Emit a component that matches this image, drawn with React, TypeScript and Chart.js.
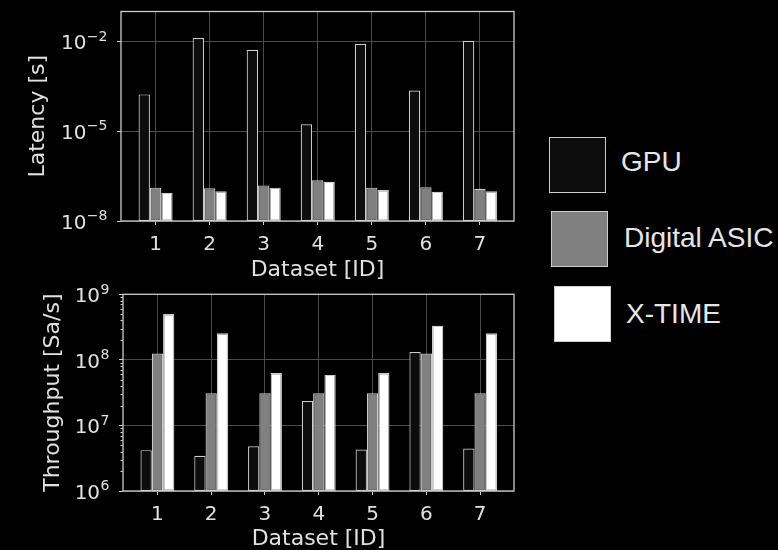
import React, { useEffect, useRef } from 'react';
import { Chart, registerables } from 'chart.js';

Chart.register(...registerables);

// ---- data ----
const datasetIds = [1, 2, 3, 4, 5, 6, 7];
const seriesNames = ['GPU', 'Digital ASIC', 'X-TIME'];
const seriesFills = ['#0d0d0d', '#808080', '#ffffff'];

const latencyGPU = [1.7e-4, 1.3e-2, 5.3e-3, 1.7e-5, 8.4e-3, 2.3e-4, 1.05e-2];
const latencyASIC = [1.3e-7, 1.25e-7, 1.55e-7, 2.3e-7, 1.3e-7, 1.35e-7, 1.2e-7];
const latencyXTIME = [8.8e-8, 9.8e-8, 1.3e-7, 2.05e-7, 1.08e-7, 9.5e-8, 9.8e-8];

const throughputGPU = [4.2e6, 3.45e6, 4.8e6, 2.35e7, 4.3e6, 1.32e8, 4.45e6];
const throughputASIC = [1.25e8, 3.1e7, 3.1e7, 3.1e7, 3.1e7, 1.25e8, 3.1e7];
const throughputXTIME = [5.0e8, 2.55e8, 6.3e7, 5.9e7, 6.3e7, 3.3e8, 2.55e8];

const latencyTicks = [1e-8, 1e-5, 1e-2];
const throughputTicks = [1e6, 1e7, 1e8, 1e9];

// ---- styles ----
const TXT = '#e0e0e0';
const GRID = '#4a4a4a';
const EDGE = '#cccccc';
const FONT = 'DejaVu Sans';

function exponentText(v: number) {
  const e = Math.round(Math.log10(v));
  return (e < 0 ? '\u2212' : '') + String(Math.abs(e));
}

const framePlugin = {
  id: 'frame',
  afterDatasetsDraw(chart: any, _args: any, opts: any) {
    const { ctx, chartArea } = chart;
    const { left, top, right, bottom } = chartArea;
    const y = chart.scales.y;
    ctx.save();
    if (opts && opts.minor) {
      ctx.strokeStyle = EDGE;
      ctx.lineWidth = 1;
      for (let d = Math.round(Math.log10(y.min)); d < Math.round(Math.log10(y.max)); d++) {
        for (let k = 2; k <= 9; k++) {
          const py = Math.round(y.getPixelForValue(k * Math.pow(10, d))) + 0.5;
          ctx.beginPath();
          ctx.moveTo(left - 2.5, py);
          ctx.lineTo(left, py);
          ctx.stroke();
        }
      }
    }
    ctx.strokeStyle = EDGE;
    ctx.lineWidth = 1.3;
    ctx.strokeRect(left, top, right - left, bottom - top);

    // y tick labels as 10 with superscript exponent
    const ticks: number[] = (opts && opts.yTicks) || [];
    ctx.fillStyle = TXT;
    ctx.textAlign = 'right';
    ctx.textBaseline = 'alphabetic';
    const rightEdge = left - 13.5;
    ticks.forEach((v) => {
      const py = y.getPixelForValue(v);
      const exp = exponentText(v);
      ctx.font = `14px "${FONT}"`;
      const ew = ctx.measureText(exp).width;
      ctx.fillText(exp, rightEdge, py - 0.8);
      ctx.font = `20px "${FONT}"`;
      ctx.fillText('10', rightEdge - ew - 0.5, py + 8);
    });
    ctx.restore();
  },
};

function makeConfig(
  values: number[][],
  yMin: number,
  yMax: number,
  yTicks: number[],
  yTitle: string,
  axisWidth: number,
  xAxisHeight: number,
  padTop: number,
  titlePad: number,
  minor: boolean
): any {
  return {
    type: 'bar',
    data: {
      datasets: values.map((vals, i) => ({
        label: seriesNames[i],
        data: datasetIds.map((x, j) => ({ x, y: vals[j] })),
        backgroundColor: seriesFills[i],
        borderColor: EDGE,
        borderWidth: 1.2,
        borderSkipped: false,
        categoryPercentage: 0.63,
        barPercentage: 1,
      })),
    },
    options: {
      animation: false,
      responsive: false,
      maintainAspectRatio: false,
      devicePixelRatio: 1,
      layout: { padding: { left: 0, top: padTop, right: 16, bottom: 0 } },
      plugins: {
        legend: { display: false },
        tooltip: { enabled: false },
        frame: { minor, yTicks },
      },
      scales: {
        x: {
          type: 'linear',
          min: 0.36,
          max: 7.63,
          offset: false,
          afterBuildTicks: (s: any) => {
            s.ticks = datasetIds.map((v) => ({ value: v }));
          },
          afterFit: (s: any) => {
            s.height = xAxisHeight;
          },
          grid: { color: GRID, lineWidth: 1, tickColor: EDGE, tickLength: 4, offset: false, drawTicks: true },
          border: { display: false },
          ticks: {
            color: TXT,
            font: { family: FONT, size: 20, lineHeight: 1 },
            padding: 9.7,
            autoSkip: false,
            maxRotation: 0,
            callback: (v: any) => String(v),
          },
          title: {
            display: true,
            text: 'Dataset [ID]',
            color: TXT,
            font: { family: FONT, size: 22, lineHeight: 1 },
            padding: 0,
          },
        },
        y: {
          type: 'logarithmic',
          min: yMin,
          max: yMax,
          afterBuildTicks: (s: any) => {
            s.ticks = yTicks.map((v) => ({ value: v, major: true }));
          },
          afterFit: (s: any) => {
            s.width = axisWidth;
          },
          grid: { color: GRID, lineWidth: 1, tickColor: EDGE, tickLength: 4, drawTicks: true },
          border: { display: false },
          ticks: {
            display: false,
            font: { family: FONT, size: 20, lineHeight: 1 },
          },
          title: {
            display: true,
            text: yTitle,
            color: TXT,
            font: { family: FONT, size: 22, lineHeight: 1 },
            padding: { top: titlePad, bottom: 0 },
          },
        },
      },
    },
    plugins: [framePlugin],
  };
}

const legendTops = [137, 211, 286];
const legendLefts = [549, 551, 554];
const legendTextLefts = [621, 624, 626];
const legendTextCenters = [161.7, 237, 313];

export default function App() {
  const topRef = useRef<HTMLCanvasElement | null>(null);
  const botRef = useRef<HTMLCanvasElement | null>(null);

  useEffect(() => {
    const c1 = new Chart(
      topRef.current as HTMLCanvasElement,
      makeConfig([latencyGPU, latencyASIC, latencyXTIME], 1e-8, 1e-1, latencyTicks, 'Latency [s]', 121, 60, 11.5, 27, false)
    );
    const c2 = new Chart(
      botRef.current as HTMLCanvasElement,
      makeConfig([throughputGPU, throughputASIC, throughputXTIME], 1e6, 1e9, throughputTicks, 'Throughput [Sa/s]', 123, 59, 24.3, 42, true)
    );
    return () => {
      c1.destroy();
      c2.destroy();
    };
  }, []);

  return (
    <div style={{ position: 'fixed', left: 0, top: 0, width: 778, height: 550, background: '#000', overflow: 'hidden' }}>
      <canvas ref={topRef} width={530} height={281} style={{ position: 'absolute', left: 0, top: 0, width: 530, height: 281 }} />
      <canvas ref={botRef} width={530} height={280} style={{ position: 'absolute', left: 0, top: 270, width: 530, height: 280 }} />
      {seriesNames.map((name, i) => (
        <React.Fragment key={name}>
          <div
            style={{
              position: 'absolute',
              left: legendLefts[i],
              top: legendTops[i],
              width: 57,
              height: 56,
              boxSizing: 'border-box',
              background: seriesFills[i],
              border: '1.5px solid ' + EDGE,
            }}
          />
          <div
            style={{
              position: 'absolute',
              left: legendTextLefts[i],
              top: legendTextCenters[i] - 15.3,
              height: 31,
              lineHeight: '31px',
              fontSize: 28,
              fontFamily: '"Liberation Sans", Arial, sans-serif',
              color: '#e6e6e6',
              whiteSpace: 'nowrap',
            }}
          >
            {name}
          </div>
        </React.Fragment>
      ))}
    </div>
  );
}
